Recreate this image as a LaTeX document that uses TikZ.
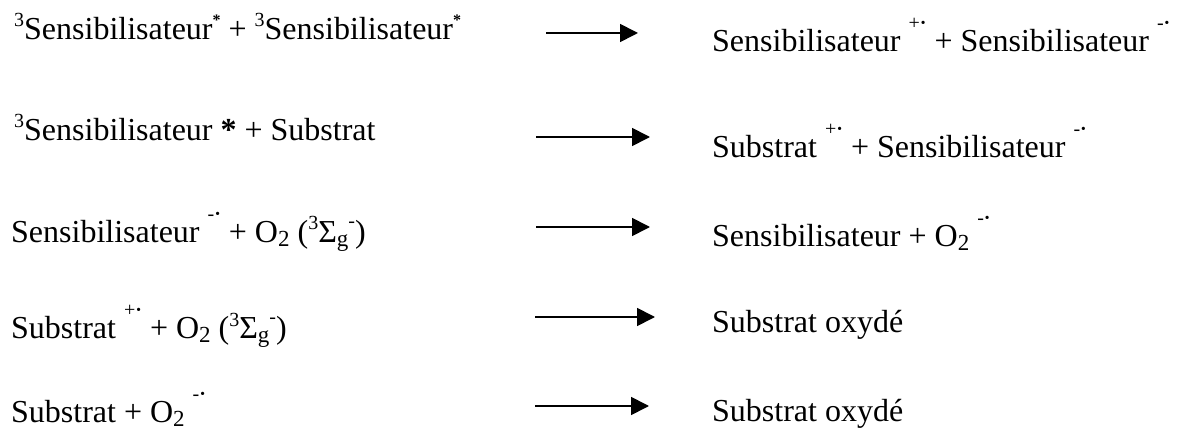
\documentclass[tikz,border=0pt]{standalone}
\usepackage{fontspec}
\setmainfont{Liberation Serif}
\usetikzlibrary{arrows.meta}
\newcommand\radc[1]{\raisebox{22pt}{\fontsize{20}{20}\selectfont #1\textbf{·}}}
\newcommand\exstar{\raisebox{14pt}{\fontsize{16}{16}\selectfont\textbf{*}}}
\newcommand\trip{\raisebox{13pt}{\fontsize{20}{20}\selectfont 3}}
\newcommand\lowr[1]{\raisebox{-4pt}{\fontsize{23}{23}\selectfont #1}}
\newcommand\upm{\raisebox{15pt}{\fontsize{20}{20}\selectfont -}}
\tikzset{
  eq/.style={anchor=base west, inner sep=0pt, font=\fontsize{32}{38}\selectfont},
  rxn/.style={line width=1.7pt, -{Triangle[length=18pt,width=18pt]}}
}
\begin{document}
\begin{tikzpicture}[x=1pt,y=-1pt]
\useasboundingbox (0,0) rectangle (1181,430);
% left column
\node[eq] (l1) at (14,40) {\trip Sensibilisateur\exstar{} + \trip Sensibilisateur\exstar};
\node[eq] (l2) at (14,141) {\trip Sensibilisateur \textbf{*} + Substrat};
\node[eq] (l3) at (11,243) {Sensibilisateur \radc{-} + O\lowr{2} (\trip Σ\lowr{g}\upm)};
\node[eq] (l4) at (11,339) {Substrat \radc{+} + O\lowr{2} (\trip Σ\lowr{g}\upm)};
\node[eq] (l5) at (11,422) {Substrat + O\lowr{2} \radc{-}};
% right column
\node[eq] (r1) at (712,52) {Sensibilisateur \radc{+} + Sensibilisateur \radc{-}};
\node[eq] (r2) at (712,158) {Substrat \radc{+} + Sensibilisateur \radc{-}};
\node[eq] (r3) at (712,247) {Sensibilisateur + O\lowr{2} \radc{-}};
\node[eq] (r4) at (712,333) {Substrat oxydé};
\node[eq] (r5) at (712,421) {Substrat oxydé};
% arrows
\coordinate (a1s) at (546,33);  \coordinate (a1e) at (638,33);
\coordinate (a2s) at (536,137); \coordinate (a2e) at (650,137);
\coordinate (a3s) at (536,227); \coordinate (a3e) at (650,227);
\coordinate (a4s) at (535,317); \coordinate (a4e) at (655,317);
\coordinate (a5s) at (535,406); \coordinate (a5e) at (649,406);
\draw[rxn] (a1s) -- (a1e);
\draw[rxn] (a2s) -- (a2e);
\draw[rxn] (a3s) -- (a3e);
\draw[rxn] (a4s) -- (a4e);
\draw[rxn] (a5s) -- (a5e);
\end{tikzpicture}
\end{document}
